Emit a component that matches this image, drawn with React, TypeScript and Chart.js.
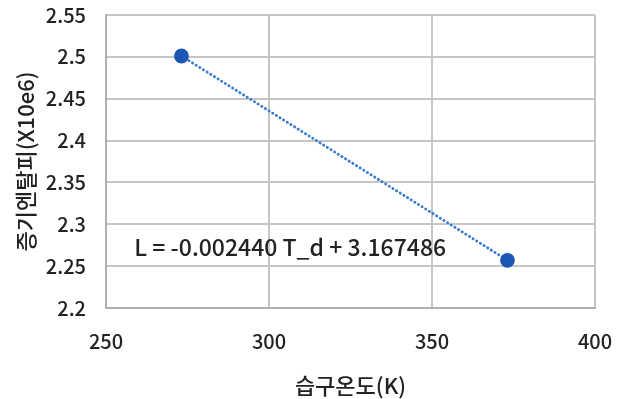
import React, { useEffect, useRef } from "react";
import { Chart, registerables } from "chart.js";

Chart.register(...registerables);

const wetBulbTemps = [273.15, 373.15];
const vaporEnthalpy = [2.501, 2.257];
const xTicks = [250, 300, 350, 400];
const yTicks = [2.2, 2.25, 2.3, 2.35, 2.4, 2.45, 2.5, 2.55];
const equationText = "L = -0.002440 T_d + 3.167486";
const equationPos = { x: 306.5, y: 2.272 };
const xTitle = "습구온도(K)";
const yTitle = "증기엔탈피(X10e6)";

const FONT = "'Noto Sans CJK KR', 'Noto Sans', sans-serif";
const TEXT = "#222222";

export default function App() {
  const ref = useRef<HTMLCanvasElement | null>(null);
  useEffect(() => {
    if (!ref.current) return;
    const eqPlugin = {
      id: "eq",
      afterDatasetsDraw(chart: any) {
        const { ctx, scales } = chart;
        const px = scales.x.getPixelForValue(equationPos.x);
        const py = scales.y.getPixelForValue(equationPos.y);
        ctx.save();
        ctx.font = `500 23px ${FONT}`;
        ctx.fillStyle = TEXT;
        ctx.textAlign = "center";
        ctx.textBaseline = "middle";
        ctx.fillText(equationText, px, py);
        ctx.restore();
      },
    };
    const chart = new Chart(ref.current, {
      type: "scatter",
      data: {
        datasets: [
          {
            data: wetBulbTemps.map((x, i) => ({ x, y: vaporEnthalpy[i] })),
            showLine: true,
            borderColor: "#3a7bd0",
            borderWidth: 2.8,
            borderDash: [0.3, 4],
            borderCapStyle: "round",
            pointRadius: 6,
            pointBackgroundColor: "#1b57b5",
            pointBorderColor: "#1b57b5",
          },
        ],
      },
      options: {
        animation: false,
        responsive: false,
        layout: { padding: { left: 0, right: 29, top: 15, bottom: 0 } },
        plugins: { legend: { display: false }, tooltip: { enabled: false } },
        scales: {
          x: {
            type: "linear",
            min: 250,
            max: 400,
            afterBuildTicks: (s: any) => {
              s.ticks = xTicks.map((v) => ({ value: v }));
            },
            afterFit: (s: any) => {
              s.height = 91;
              s.paddingLeft = 0;
              s.paddingRight = 0;
            },
            grid: { color: "#c6c6c6", lineWidth: 2, drawTicks: false },
            border: { color: "#b0b0b0", width: 2 },
            ticks: {
              padding: 21,
              color: TEXT,
              font: { family: FONT, size: 20, weight: 500 },
            },
            title: {
              display: true,
              text: xTitle,
              color: TEXT,
              font: { family: FONT, size: 22, weight: 500 },
              padding: { top: 6, bottom: 0 },
            },
          },
          y: {
            type: "linear",
            min: 2.2,
            max: 2.55,
            afterBuildTicks: (s: any) => {
              s.ticks = yTicks.map((v) => ({ value: v }));
            },
            afterFit: (s: any) => {
              s.width = 106;
              s.paddingTop = 0;
              s.paddingBottom = 0;
            },
            grid: { color: "#c6c6c6", lineWidth: 2, drawTicks: false },
            border: { color: "#b0b0b0", width: 2 },
            ticks: {
              padding: 20,
              color: TEXT,
              font: { family: FONT, size: 20, weight: 500 },
              callback: (v: any) => String(Math.round(Number(v) * 100) / 100),
            },
            title: {
              display: true,
              text: yTitle,
              color: TEXT,
              font: { family: FONT, size: 22, weight: 500 },
              padding: { top: 12, bottom: 0 },
            },
          },
        },
      },
      plugins: [eqPlugin],
    } as any);
    return () => chart.destroy();
  }, []);
  return (
    <div style={{ position: "fixed", left: 0, top: 0, width: 624, height: 399, background: "#fff" }}>
      <canvas ref={ref} width={624} height={399} />
    </div>
  );
}
